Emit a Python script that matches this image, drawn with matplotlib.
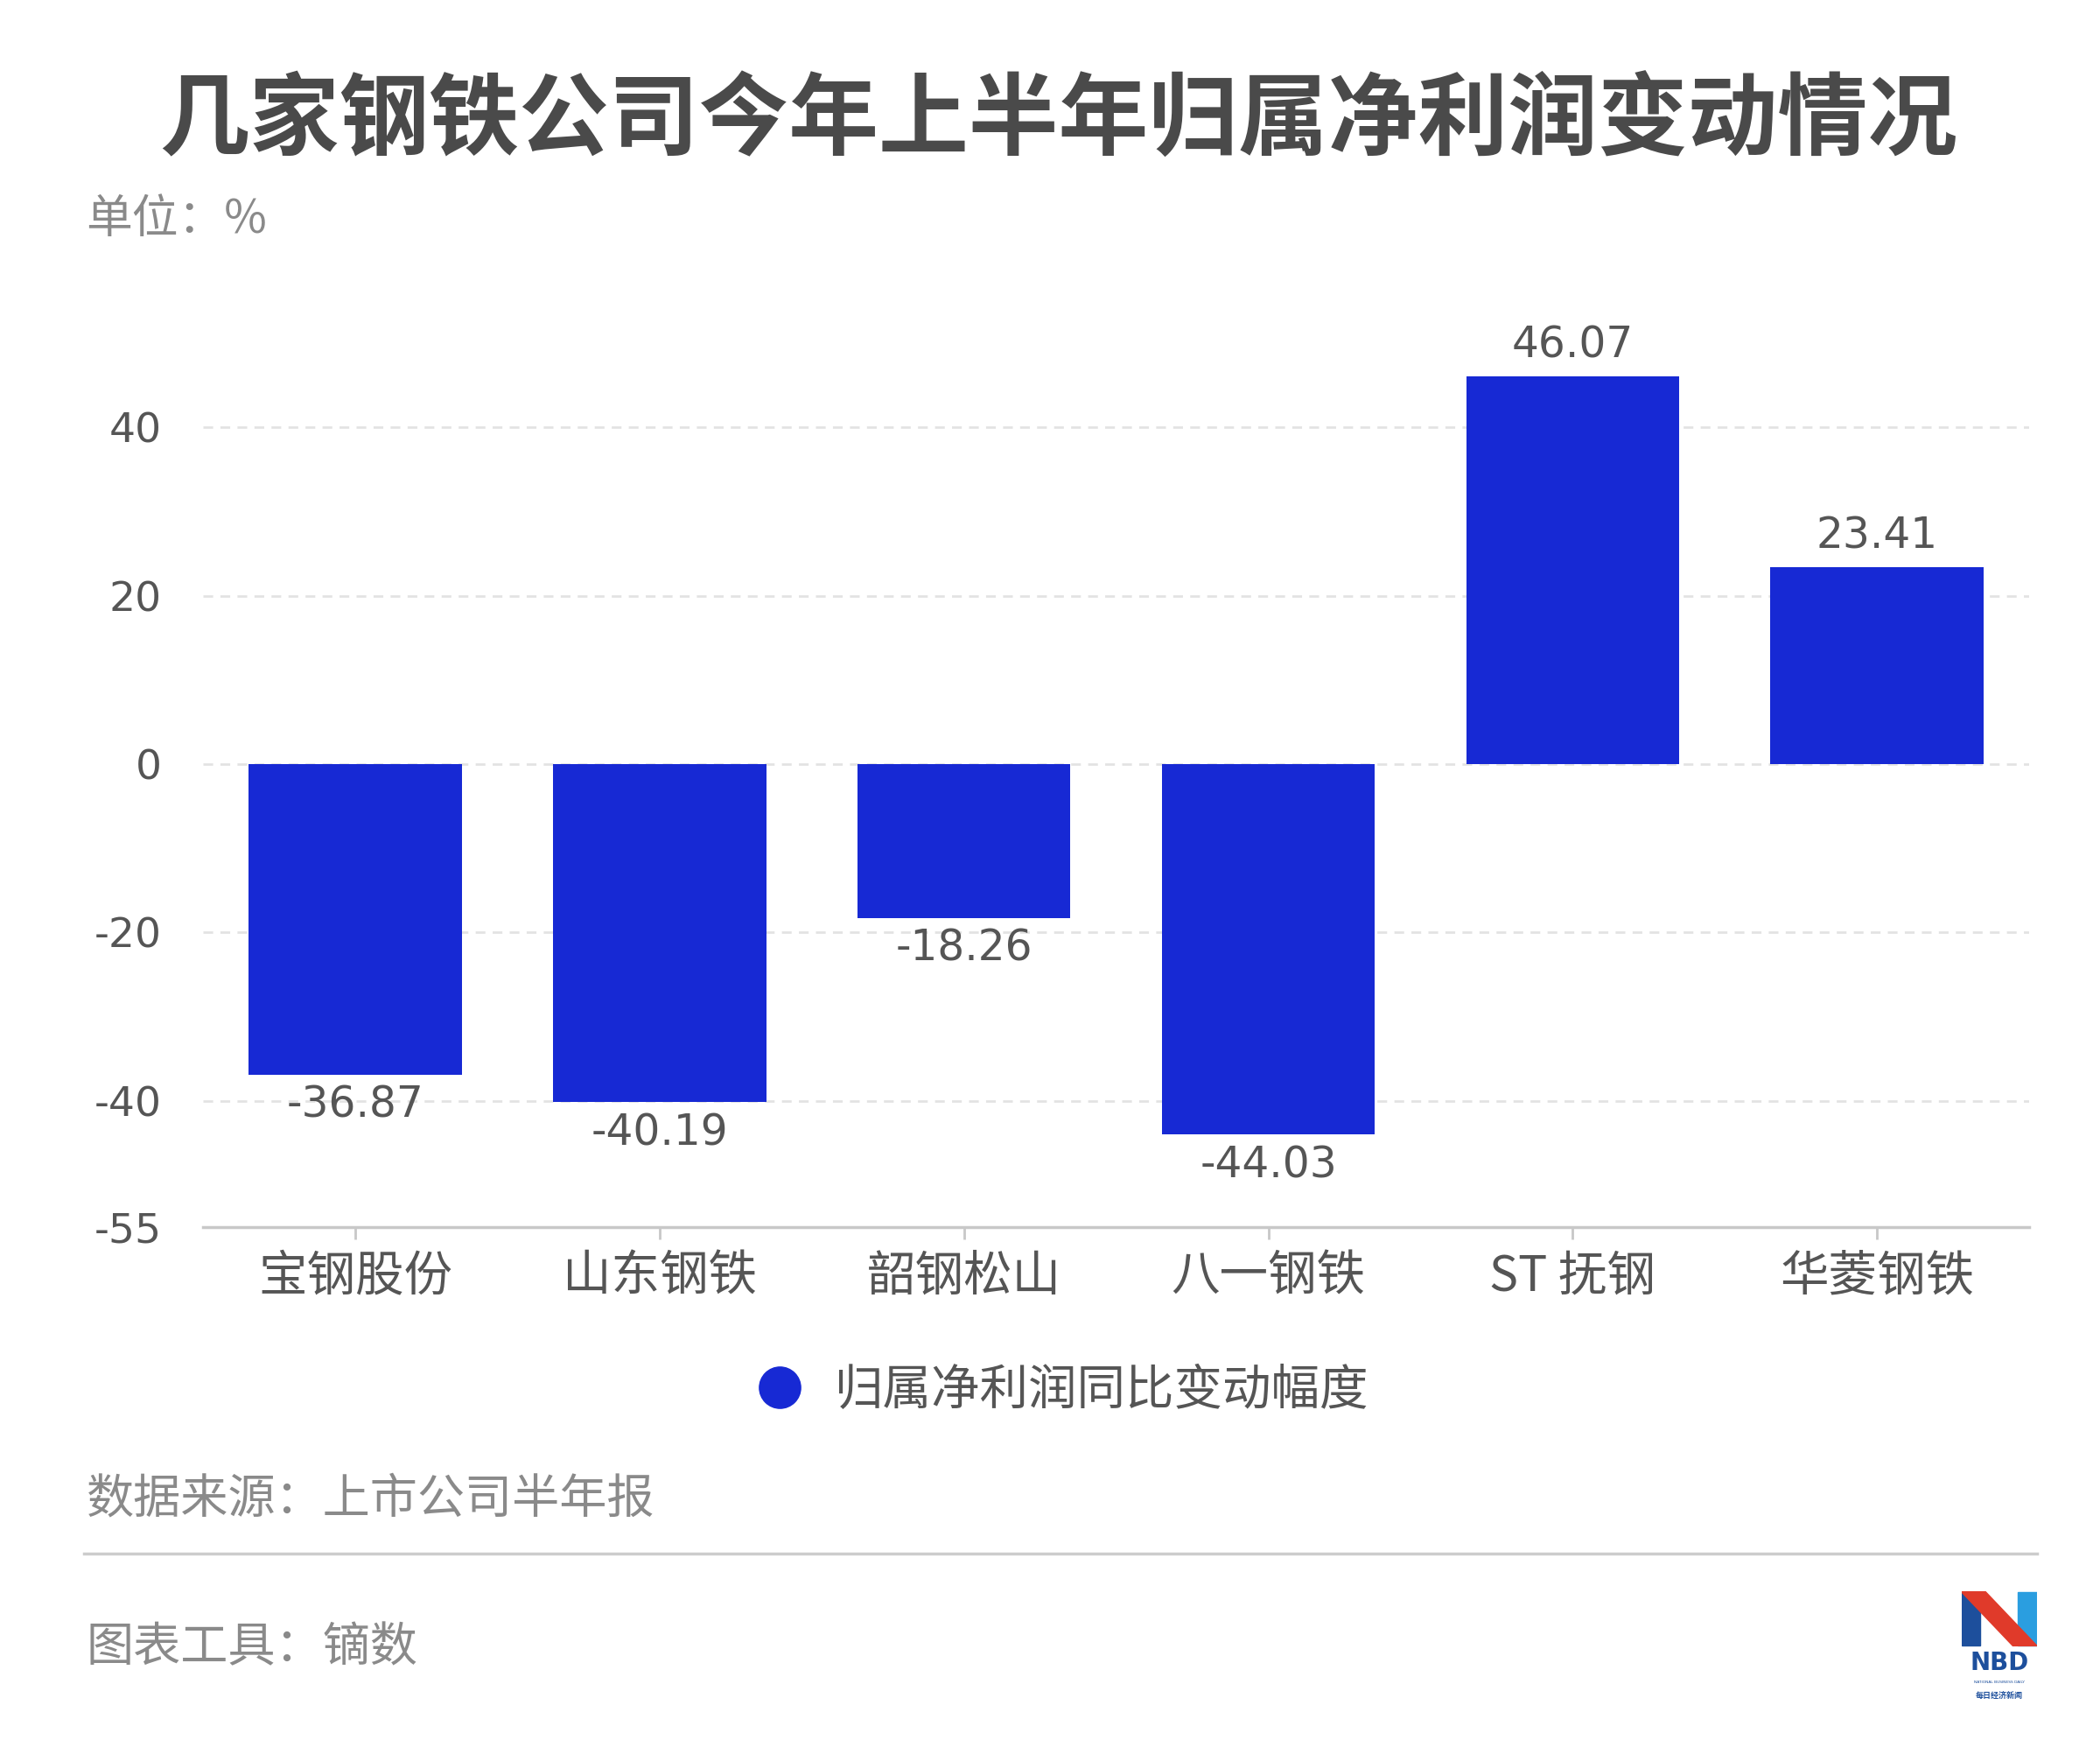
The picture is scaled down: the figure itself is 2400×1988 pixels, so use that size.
import matplotlib.pyplot as plt
from matplotlib.lines import Line2D
from matplotlib.patches import Polygon
import numpy as np

plt.rcParams['font.family'] = ['Noto Sans CJK SC', 'DejaVu Sans']

companies = ["宝钢股份", "山东钢铁", "韶钢松山", "八一钢铁", "ST 抚钢", "华菱钢铁"]
changes = [-36.87, -40.19, -18.26, -44.03, 46.07, 23.41]
yticks = [-55, -40, -20, 0, 20, 40]
grid_vals = [-40, -20, 0, 20, 40]

title = "几家钢铁公司今年上半年归属净利润变动情况"
unit_text = "单位：%"
legend_label = "归属净利润同比变动幅度"
source_text = "数据来源：上市公司半年报"
tool_text = "图表工具：镝数"

bar_color = "#1729d4"
text_color = "#555555"
gray_text = "#8a8a8a"
num_font = ["DejaVu Sans"]

fig = plt.figure(figsize=(24, 19.88), dpi=100)
ax = fig.add_axes([0.0967, 0.2948, 0.8696, 0.5322])

x = np.arange(len(companies))
bars = ax.bar(x, changes, width=0.70, color=bar_color, zorder=3)

for g in grid_vals:
    ax.axhline(g, color="#e3e3e3", lw=2, ls=(0, (4, 3)), zorder=1)

for xi, v in zip(x, changes):
    if v >= 0:
        ax.annotate(f"{v:.2f}", (xi, v), xytext=(0, 8), textcoords="offset points",
                    ha="center", va="bottom", fontsize=35, color=text_color, family=num_font)
    else:
        ax.annotate(f"{v:.2f}", (xi, v), xytext=(0, -8), textcoords="offset points",
                    ha="center", va="top", fontsize=35, color=text_color, family=num_font)

ax.set_xlim(-0.5, len(companies) - 0.5)
ax.set_ylim(-55, 55)
ax.set_yticks(yticks)
ax.set_yticklabels([str(t) for t in yticks], fontsize=34, color=text_color, family=num_font)
ax.set_xticks(x)
ax.set_xticklabels(companies, fontsize=40, color=text_color)
ax.tick_params(axis="y", length=0, pad=34)
ax.tick_params(axis="x", length=10, width=2, color="#c8c8c8", pad=10)

for s in ["top", "right", "left"]:
    ax.spines[s].set_visible(False)
ax.spines["bottom"].set_color("#c8c8c8")
ax.spines["bottom"].set_linewidth(2.5)

handle = Line2D([], [], marker="o", ls="none", color=bar_color, markersize=34)
fig.legend([handle], [legend_label], loc="center", bbox_to_anchor=(0.5, 0.2007),
           frameon=False, fontsize=40, handletextpad=0.15, labelcolor=text_color)

fig.text(0.504, 0.930, title, ha="center", va="center", fontsize=74,
         fontweight="bold", color="#4a4a4a")
fig.text(0.041, 0.874, unit_text, ha="left", va="center", fontsize=38, color=gray_text)
fig.text(0.041, 0.1385, source_text, ha="left", va="center", fontsize=39, color=gray_text)
fig.text(0.041, 0.053, tool_text, ha="left", va="center", fontsize=39, color=gray_text)
fig.add_artist(Line2D([0.040, 0.970], [0.107, 0.107], color="#cccccc", lw=2.5,
                      transform=fig.transFigure))

# NBD logo
lax = fig.add_axes([0.934, 0.018, 0.036, 0.068])
lax.set_xlim(0, 1)
lax.set_ylim(0, 1.6)
lax.axis("off")
lax.add_patch(Polygon([[0, 0.85], [0, 1.58], [0.25, 1.58], [0.25, 0.85]], color="#1d4f9c"))
lax.add_patch(Polygon([[0.75, 0.85], [0.75, 1.58], [1.0, 1.58], [1.0, 0.85]], color="#2a9ee0"))
lax.add_patch(Polygon([[0.0, 1.58], [0.32, 1.58], [1.0, 0.85], [0.68, 0.85]], color="#e03a2a"))
lax.text(0.5, 0.62, "NBD", ha="center", va="center", fontsize=20, fontweight="bold",
         color="#1d4f9c", family=["DejaVu Sans"])
lax.text(0.5, 0.36, "NATIONAL BUSINESS DAILY", ha="center", va="center", fontsize=3.2,
         color="#1d4f9c", family=["DejaVu Sans"])
lax.text(0.5, 0.16, "每日经济新闻", ha="center", va="center", fontsize=6.5,
         fontweight="bold", color="#1d4f9c")

fig.savefig("out.png", dpi=100)
